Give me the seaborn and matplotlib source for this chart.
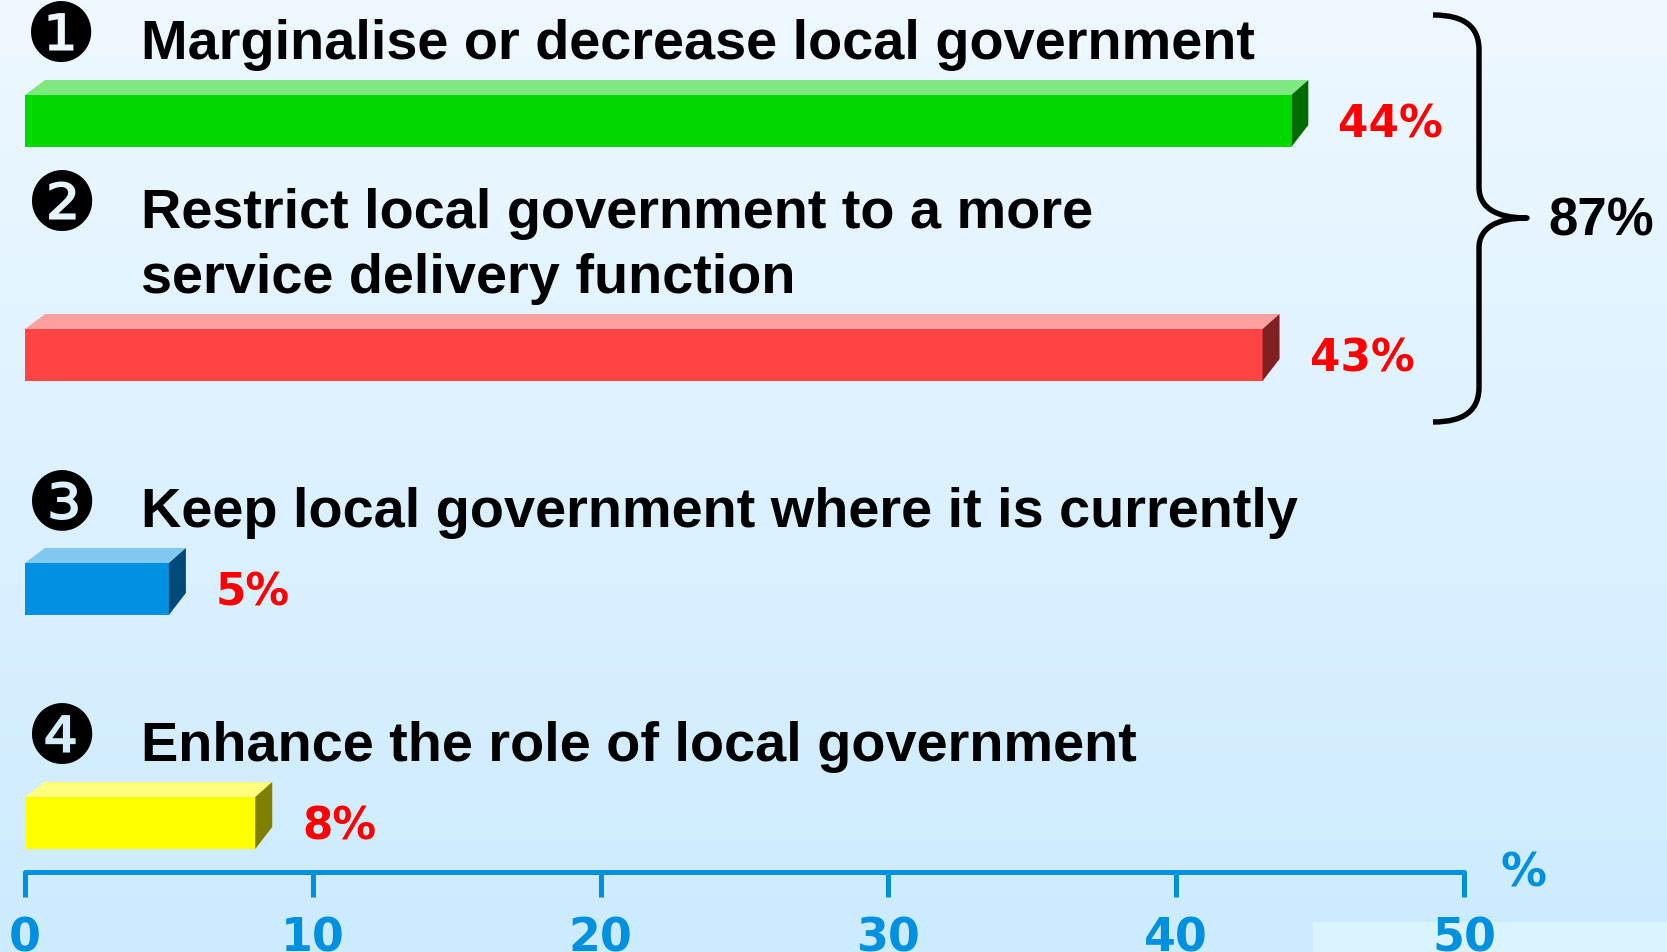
import numpy as np
import pandas as pd
import matplotlib
matplotlib.use("Agg")
import matplotlib.pyplot as plt
from matplotlib.path import Path
from matplotlib.patches import PathPatch, Polygon, Rectangle
import matplotlib.transforms as mtransforms
import seaborn as sns

# ---------------- data ----------------
categories = ["Marginalise or decrease local government",
              "Restrict local government to a more\nservice delivery function",
              "Keep local government where it is currently",
              "Enhance the role of local government"]
markers = ["\u2776", "\u2777", "\u2778", "\u2779"]
values = [44, 43, 5, 8]
value_labels = ["44%", "43%", "5%", "8%"]
tick_values = [0, 10, 20, 30, 40, 50]
tick_labels = ["0", "10", "20", "30", "40", "50"]
group_total_label = "87%"
axis_unit = "%"

front_colors = ["#00D800", "#FF4444", "#0090E0", "#FFFF00"]
top_colors = ["#80E880", "#FFA0A0", "#80C8F0", "#FFFF80"]
side_colors = ["#006B00", "#802020", "#004A78", "#808000"]
blue = "#0090E0"

# ---------------- layout ----------------
W, H = 1667, 952
DPI = 100
x0px = 25
px_per_unit = (1464 - 25) / 50
row0 = 121
row_step = 234

sns.set_theme(style="white")
plt.rcParams['font.family'] = ['Liberation Sans', 'DejaVu Sans']

fig = plt.figure(figsize=(W / DPI, H / DPI), dpi=DPI)

# background gradient
bg = fig.add_axes([0, 0, 1, 1], zorder=0)
grad = np.linspace(0, 1, 256)[:, None, None]
ctop = np.array([238, 248, 255]) / 255
cbot = np.array([204, 235, 255]) / 255
img = ctop[None, None, :] * (1 - grad) + cbot[None, None, :] * grad
img = np.repeat(img, 2, axis=1)
bg.imshow(img, aspect='auto', extent=[0, 1, 0, 1], origin='upper')
bg.add_patch(Rectangle((1313 / W, 0), 1 - 1313 / W, 30 / H, color="#D9F3FF", lw=0))
bg.set_xlim(0, 1); bg.set_ylim(0, 1)
bg.axis('off')

ax = fig.add_axes([0, 0, 1, 1], zorder=1)
ax.patch.set_alpha(0)

df = pd.DataFrame({"category": categories, "value": values})
sns.barplot(data=df, x="value", y="category", hue="category", palette=front_colors,
            width=52 / row_step, orient="h", saturation=1, legend=False, ax=ax,
            linewidth=0)

ax.set_xlim(-x0px / px_per_unit, (W - x0px) / px_per_unit)
ax.set_ylim((H - row0) / row_step, -row0 / row_step)
ax.set_xlabel("")
ax.set_ylabel("")

# 3D faces
dxr = 17 / px_per_unit
dxl = 20 / px_per_unit
dyt = 15 / row_step
dyb = 22 / row_step
for p in list(ax.patches):
    xa = p.get_x(); xb = xa + p.get_width()
    ya = p.get_y(); yb = ya + p.get_height()
    i = int(round((ya + yb) / 2))
    ax.add_patch(Polygon([(xa, ya), (xb, ya), (xb + dxr, ya - dyt), (xa + dxl, ya - dyt)],
                         closed=True, facecolor=top_colors[i], edgecolor='none', zorder=3))
    ax.add_patch(Polygon([(xb, ya), (xb + dxr, ya - dyt), (xb + dxr, yb - dyb), (xb, yb)],
                         closed=True, facecolor=side_colors[i], edgecolor='none', zorder=3))
    # value label
    ax.text(xb + 47 / px_per_unit, (ya + yb) / 2 + 4 / row_step, value_labels[i],
            color="#FF0000", fontsize=31.5, fontweight='bold', family='DejaVu Sans',
            ha='left', va='center')

# category labels + numbered markers
label_x = (141 - x0px) / px_per_unit
marker_x = (61 - x0px) / px_per_unit
for i, cat in enumerate(categories):
    lines = cat.split("\n")
    n = len(lines)
    base_last = i - 62 / row_step
    for j, line in enumerate(lines):
        yb_ = base_last - (n - 1 - j) * 65 / row_step
        ax.text(label_x, yb_, line, fontsize=40.2, fontweight='bold', ha='left',
                va='baseline', color='black')
        if j == 0:
            ax.text(marker_x, yb_ - 20 / row_step, markers[i], fontsize=58,
                    family='DejaVu Sans', ha='center', va='center', color='black')

# axis
ax.set_yticks([])
ax.set_xticks(tick_values, tick_labels)
for s in ['top', 'right', 'left']:
    ax.spines[s].set_visible(False)
sp = ax.spines['bottom']
sp.set_position(('data', (872 - row0) / row_step))
sp.set_bounds(tick_values[0], tick_values[-1])
sp.set_color(blue)
sp.set_linewidth(3.6)
sp.set_capstyle('round')
ax.tick_params(axis='x', bottom=True, direction='out', length=18, width=3.6,
               color=blue, pad=14, labelsize=33, labelcolor=blue)
for lab in ax.get_xticklabels():
    lab.set_fontweight('bold')
    lab.set_family('DejaVu Sans')

# pixel-space transform for decorations
pix = mtransforms.Affine2D().scale(1 / W, -1 / H).translate(0, 1) + fig.transFigure

ax.text(1524, 874, axis_unit, transform=pix, fontsize=33, fontweight='bold',
        family='DejaVu Sans', color=blue, ha='center', va='center')

# brace
verts = [(1433, 15), (1466, 15), (1479, 28), (1479, 50),
         (1479, 187),
         (1479, 207), (1495, 218), (1527, 218),
         (1495, 218), (1479, 229), (1479, 248),
         (1479, 387),
         (1479, 409), (1466, 422), (1433, 422)]
codes = [Path.MOVETO, Path.CURVE4, Path.CURVE4, Path.CURVE4,
         Path.LINETO,
         Path.CURVE4, Path.CURVE4, Path.CURVE4,
         Path.CURVE4, Path.CURVE4, Path.CURVE4,
         Path.LINETO,
         Path.CURVE4, Path.CURVE4, Path.CURVE4]
ax.add_patch(PathPatch(Path(verts, codes), transform=pix, facecolor='none',
                       edgecolor='black', lw=3.9, capstyle='butt', joinstyle='round',
                       clip_on=False))
ax.text(1548, 222, group_total_label, transform=pix, fontsize=38, fontweight='bold',
        ha='left', va='center', color='black')

fig.savefig("out.png", dpi=DPI)
